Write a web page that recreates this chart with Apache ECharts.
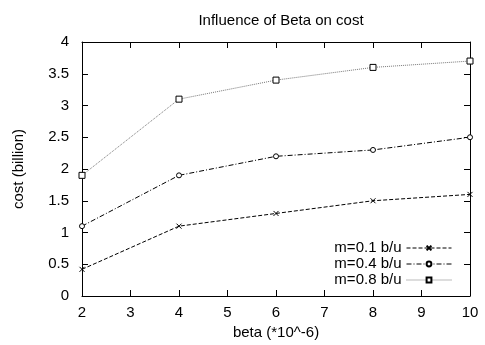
<!DOCTYPE html>
<html>
<head>
<meta charset="utf-8">
<script src="https://cdn.jsdelivr.net/npm/echarts@6/dist/echarts.min.js"></script>
<style>
html, body { margin: 0; padding: 0; background: #fff; }
#chart { width: 485px; height: 345px; }
</style>
</head>
<body>
<div id="chart"></div>
<script>
// 数据
var betaX = [2, 4, 6, 8, 10];
var cost01 = [0.42, 1.1, 1.3, 1.5, 1.6];
var cost04 = [1.1, 1.9, 2.2, 2.3, 2.5];
var cost08 = [1.9, 3.1, 3.4, 3.6, 3.7];
var seriesNames = ['m=0.1 b/u', 'm=0.4 b/u', 'm=0.8 b/u'];

function pairs(ys) {
	var out = [];
	for (var i = 0; i < betaX.length; i++) {
		out.push([betaX[i], ys[i]]);
	}
	return out;
}

var font = 'Liberation Sans, Arial, sans-serif';
var fs = 15;
var crossPath = 'path://M0,0L10,10M10,0L0,10';

// 坐标轴公共样式
function frameAxis(extra) {
	var ax = {
		axisLine: { show: true, onZero: false, lineStyle: { color: '#000', width: 1 } },
		axisTick: { show: true, inside: true, length: 6, lineStyle: { color: '#000' } },
		splitLine: { show: false },
		axisLabel: { show: false }
	};
	for (var k in extra) ax[k] = extra[k];
	return ax;
}

var chart = echarts.init(document.getElementById('chart'));

var option = {
	animation: false,
	backgroundColor: '#fff',
	title: {
		text: 'Influence of Beta on cost',
		left: 276,
		textAlign: 'center',
		top: 8,
		textStyle: { fontFamily: font, fontSize: fs, fontWeight: 'normal', color: '#000' }
	},
	grid: { left: 82, right: 15, top: 42, bottom: 49, containLabel: false, outerBoundsMode: 'none' },
	legend: {
		right: 28,
		bottom: 52,
		orient: 'vertical',
		align: 'right',
		itemGap: 0,
		itemWidth: 45,
		itemHeight: 6,
		lineStyle: { width: 1 },
		textStyle: { fontFamily: font, fontSize: fs, color: '#000', lineHeight: 16 },
		data: seriesNames
	},
	xAxis: [
		frameAxis({
			type: 'value', min: 2, max: 10, interval: 1, position: 'bottom',
			name: 'beta (*10^-6)', nameLocation: 'middle', nameGap: 28,
			nameTextStyle: { fontFamily: font, fontSize: fs, color: '#000' },
			axisLabel: { show: true, fontFamily: font, fontSize: fs, color: '#000', margin: 9 }
		}),
		frameAxis({ type: 'value', min: 2, max: 10, interval: 1, position: 'top' })
	],
	yAxis: [
		frameAxis({
			type: 'value', min: 0, max: 4, interval: 0.5, position: 'left',
			name: 'cost (billion)', nameLocation: 'middle', nameGap: 56, nameRotate: 90,
			nameTextStyle: { fontFamily: font, fontSize: fs, color: '#000' },
			axisLabel: { show: true, fontFamily: font, fontSize: fs, color: '#000', margin: 13 }
		}),
		frameAxis({ type: 'value', min: 0, max: 4, interval: 0.5, position: 'right' })
	],
	series: [
		{
			name: seriesNames[0], type: 'line', data: pairs(cost01),
			symbol: crossPath, symbolSize: 5,
			lineStyle: { color: '#000', width: 1, type: [4, 2] },
			itemStyle: { color: '#000', borderColor: '#000', borderWidth: 1 }
		},
		{
			name: seriesNames[1], type: 'line', data: pairs(cost04),
			symbol: 'circle', symbolSize: 5,
			lineStyle: { color: '#000', width: 1, type: [5, 2, 1, 2] },
			itemStyle: { color: '#fff', borderColor: '#000', borderWidth: 1 }
		},
		{
			name: seriesNames[2], type: 'line', data: pairs(cost08),
			symbol: 'rect', symbolSize: 6,
			lineStyle: { color: '#777', width: 1, type: [1, 1] },
			itemStyle: { color: '#fff', borderColor: '#000', borderWidth: 1 }
		}
	]
};

chart.setOption(option);
</script>
</body>
</html>
